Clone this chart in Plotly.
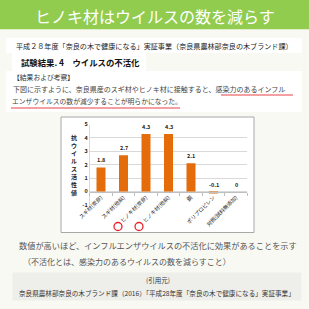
import plotly.graph_objects as go

W = H = 309
FONT = "Noto Sans CJK JP"

# ---- data ----
categories = ["スギ材(奈良)", "スギ材(他県)", "ヒノキ材(奈良)", "ヒノキ材(他県)",
              "銅", "ポリプロピレン", "対照(試料無添加)"]
values = [1.8, 2.7, 4.3, 4.3, 2.1, -0.1, 0]
value_labels = ["1.8", "2.7", "4.3", "4.3", "2.1", "-0.1", "0"]
y_ticks = [-1, 0, 1, 2, 3, 4, 5]
y_title = "抗ウイルス活性値"

TITLE = "ヒノキ材はウイルスの数を減らす"
LINE1 = "平成２８年度「奈良の木で健康になる」実証事業（奈良県農林部奈良の木ブランド課）"
LINE2 = "試験結果. 4　ウイルスの不活化"
LINE3 = "【結果および考察】"
LINE4 = "　下図に示すように、奈良県産のスギ材やヒノキ材に接触すると、感染力のあるインフル"
LINE5 = "エンザウイルスの数が減少することが明らかになった。"
NOTE1 = "数値が高いほど、インフルエンザウイルスの不活化に効果があることを示す"
NOTE2 = "（不活化とは、感染力のあるウイルスの数を減らすこと）"
SRC1 = "(引用元)"
SRC2 = "奈良県農林部奈良の木ブランド課（2016）「平成28年度「奈良の木で健康になる」実証事業」"


def px(x):
    return x / W


def py(y):
    return 1 - y / H


# plot area in pixels
PL, PR = 89.75, 247.25
PT, PB = 124.5, 204.9
YMIN, YMAX = -1, 5
ydom = [py(PB), py(PT)]
zero_pos = ydom[0] + (0 - YMIN) / (YMAX - YMIN) * (ydom[1] - ydom[0])

fig = go.Figure()
fig.add_trace(go.Bar(x=categories, y=values, marker=dict(color="#e46c0a", line=dict(width=0)),
                     hoverinfo="skip"))

shapes = []


def rect(x0, y0, x1, y1, fill, line=None, layer="below"):
    shapes.append(dict(type="rect", xref="paper", yref="paper", x0=px(x0), x1=px(x1),
                       y0=py(y1), y1=py(y0), fillcolor=fill,
                       line=line or dict(width=0), layer=layer))


rect(0, 0, 309, 29.3, "#91cc4f")
rect(6, 38, 302, 53, "#ffffff")
rect(12, 53, 146, 72, "#ffffff")
rect(6, 71, 302, 112, "#ffffff")
rect(61, 117, 254, 232.5, "#ffffff", line=dict(color="#a8a8a8", width=1))
rect(12.5, 272.5, 301.5, 300.5, "#eeefea")

# red underlines
for (x0, x1, y) in [(221, 293, 95), (11, 180, 108)]:
    shapes.append(dict(type="line", xref="paper", yref="paper", x0=px(x0), x1=px(x1),
                       y0=py(y), y1=py(y), line=dict(color="#ea4249", width=1.2), layer="above"))
# red circles
for cx in [118, 139]:
    r = 4
    shapes.append(dict(type="circle", xref="paper", yref="paper", x0=px(cx - r), x1=px(cx + r),
                       y0=py(226.5 + r), y1=py(226.5 - r),
                       line=dict(color="#e8202a", width=1.3), layer="above"))

ann = []


def T(text, x, y, size, color="#333333", anchor="left", bold=False):
    ann.append(dict(text=f"<b>{text}</b>" if bold else text, x=px(x), y=py(y),
                    xref="paper", yref="paper", xanchor=anchor, yanchor="middle",
                    showarrow=False, font=dict(family=FONT, size=size, color=color)))


T(TITLE, 154.5, 15.5, 16, color="#ffffff", anchor="center")
T(LINE1, 14, 46.5, 7.1, color="#222222")
T(LINE2, 19, 62, 8.4, color="#111111", bold=True)
T(LINE3, 11, 77, 6.8, color="#333333")
T(LINE4, 4, 89, 7.0, color="#444444")
T(LINE5, 10, 101.5, 6.8, color="#444444")
T(NOTE1, 17, 245, 8.2, color="#555555")
T(NOTE2, 21, 261, 8.0, color="#555555")
T(SRC1, 158, 280, 6.5, color="#333333", anchor="center")
T(SRC2, 17, 292.5, 6.6, color="#333333")

# y-axis title (vertical stacked characters)
ann.append(dict(text="<b>" + "<br>".join(list(y_title)) + "</b>", x=px(73.5), y=py(165),
                xref="paper", yref="paper", xanchor="center", yanchor="middle",
                showarrow=False, font=dict(family=FONT, size=6, color="#222222")))

# data labels
for c, v, lab in zip(categories, values, value_labels):
    ann.append(dict(text=f"<b>{lab}</b>", x=c, y=max(v, 0), xref="x", yref="y",
                    xanchor="center", yanchor="bottom", yshift=1, showarrow=False,
                    font=dict(family=FONT, size=5.5, color="#222222")))

fig.update_layout(
    template="none",
    width=W, height=H, margin=dict(l=0, r=0, t=0, b=0, autoexpand=False),
    paper_bgcolor="#f9f9f3", plot_bgcolor="rgba(0,0,0,0)",
    showlegend=False, bargap=0.6,
    shapes=shapes, annotations=ann,
    xaxis=dict(domain=[px(PL), px(PR)], anchor="free", position=zero_pos, type="category",
               automargin=False,
               showline=True, linecolor="#bfbfbf", linewidth=1, ticks="outside", ticklen=3,
               tickcolor="#bfbfbf", tickson="boundaries", tickangle=-45, showgrid=False,
               tickfont=dict(family=FONT, size=5.3, color="#222222"), fixedrange=True),
    yaxis=dict(domain=ydom, range=[YMIN, YMAX], tickvals=y_ticks, automargin=False,
               ticktext=[str(t) for t in y_ticks], showgrid=True, gridcolor="#d9d9d9",
               gridwidth=1, zeroline=False, showline=True, linecolor="#d9d9d9",
               ticks="", tickfont=dict(family=FONT, size=5.5, color="#222222", weight="bold"),
               fixedrange=True),
)

fig.write_html("out.html")
